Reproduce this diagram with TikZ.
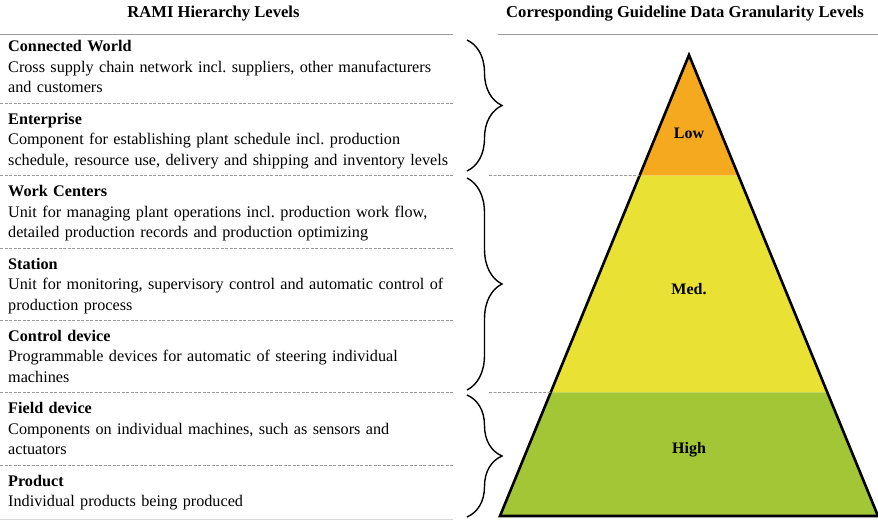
\documentclass[tikz,border=0pt]{standalone}
\usepackage{fontspec}
\setmainfont{Liberation Serif}
\usetikzlibrary{calc, decorations.pathreplacing}
\definecolor{LevelLow}{HTML}{F5A91F}
\definecolor{LevelMed}{HTML}{E9E133}
\definecolor{LevelHigh}{HTML}{A3C637}
\definecolor{RuleGray}{HTML}{9A9A9A}
\frenchspacing
\tikzset{
    % Text of the hierarchy levels
    level text/.style={
        anchor=north west,
        inner sep=0pt,
        align=left,
        text width=460pt,
        font=\fontsize{16.2}{20.5}\selectfont
    },
    header text/.style={
        anchor=base,
        inner sep=0pt,
        font=\fontsize{16.6}{19}\selectfont\bfseries
    },
    granularity text/.style={
        inner sep=0pt,
        font=\fontsize{16}{19}\selectfont\bfseries
    },
    header rule/.style={
        RuleGray,
        line width=1pt
    },
    level rule/.style={
        RuleGray,
        line width=0.7pt,
        dash pattern=on 3pt off 1.5pt
    },
    brace style/.style={
        decorate,
        decoration={brace, amplitude=35pt, aspect=0.5},
        line width=1.4pt,
        black
    }
}
\begin{document}
\begin{tikzpicture}[x=1pt, y=-1pt]
        \useasboundingbox (0,0) rectangle (878,521);

        % Headers
        \node[header text] (hleft) at (213.5,18) {RAMI Hierarchy Levels};
        \node[header text] (hright) at (685,18) {Corresponding Guideline Data Granularity Levels};
        \draw[header rule] (0,35) -- (453,35);
        \draw[header rule] (498,35) -- (878,35);

        % Hierarchy levels
        \node[level text] (world) at (8,40.5) {\textbf{Connected World}\\
            Cross supply chain network incl. suppliers, other manufacturers\\
            and customers};
        \node[level text] (enterprise) at (8,113) {\textbf{Enterprise}\\
            Component for establishing plant schedule incl. production\\
            schedule, resource use, delivery and shipping and inventory levels};
        \node[level text] (workcenters) at (8,185.5) {\textbf{Work Centers}\\
            Unit for managing plant operations incl. production work flow,\\
            detailed production records and production optimizing};
        \node[level text] (station) at (8,258) {\textbf{Station}\\
            Unit for monitoring, supervisory control and automatic control of\\
            production process};
        \node[level text] (control) at (8,330) {\textbf{Control device}\\
            Programmable devices for automatic of steering individual\\
            machines};
        \node[level text] (field) at (8,402.5) {\textbf{Field device}\\
            Components on individual machines, such as sensors and\\
            actuators};
        \node[level text] (product) at (8,475) {\textbf{Product}\\
            Individual products being produced};

        % Separators between the levels
        \foreach \y in {103,175.5,248,320,392.5,465} {
            \draw[level rule] (0,\y) -- (453,\y);
        }
        \draw[RuleGray!40, line width=0.7pt] (0,519.5) -- (453,519.5);

        % Braces
        \draw[brace style] (467,40) -- (467,171);
        \draw[brace style] (467,178) -- (467,390);
        \draw[brace style] (467,395) -- (467,517);

        % Pyramid
        \coordinate (apex) at (689,55);
        \coordinate (bl) at (500,516);
        \coordinate (br) at (878,516);
        \coordinate (lowl) at ($(apex)!0.2614!(bl)$);
        \coordinate (lowr) at ($(apex)!0.2614!(br)$);
        \coordinate (medl) at ($(apex)!0.7321!(bl)$);
        \coordinate (medr) at ($(apex)!0.7321!(br)$);
        \fill[LevelLow] (apex) -- (lowl) -- (lowr) -- cycle;
        \fill[LevelMed] (lowl) -- (medl) -- (medr) -- (lowr) -- cycle;
        \fill[LevelHigh] (medl) -- (bl) -- (br) -- (medr) -- cycle;
        \draw[line width=2.6pt, line join=miter] (apex) -- (bl) -- (br) -- cycle;

        \node[granularity text] (low) at (689,133) {Low};
        \node[granularity text] (med) at (689,289) {Med.};
        \node[granularity text] (high) at (689,450) {High};

        % Dashed links from the braces to the pyramid
        \coordinate (linkone) at (489,175.5);
        \coordinate (linktwo) at (489,392.5);
        \draw[level rule] (linkone) -- (lowl);
        \draw[level rule] (linktwo) -- (medl);
    \end{tikzpicture}
\end{document}
